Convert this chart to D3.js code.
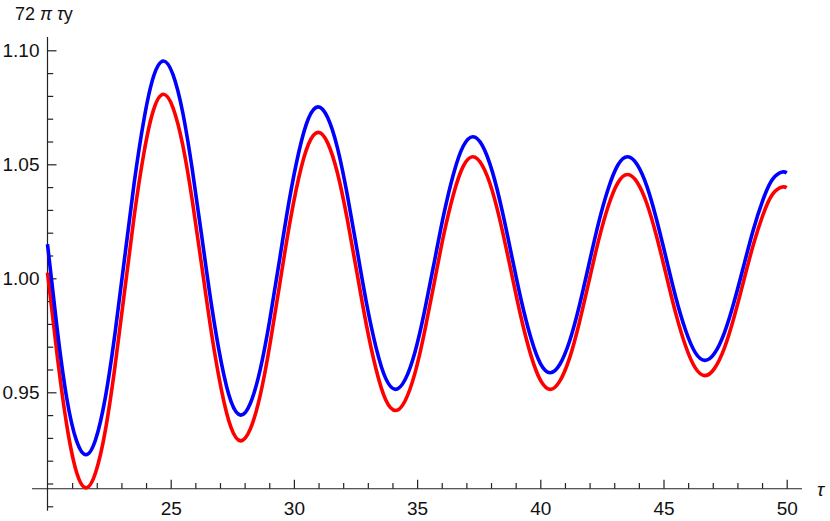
<!DOCTYPE html>
<html>
<head>
<meta charset="utf-8">
<script src="https://cdn.jsdelivr.net/npm/d3@7"></script>
<style>
    body { margin: 0; background: #fff; }
    svg { display: block; font-family: "Liberation Sans", Arial, sans-serif; }
    .tick text { fill: #111; font-size: 19px; }
    .tick line { stroke: #222; stroke-width: 1.2; }
</style>
</head>
<body>
<svg id="chart" width="830" height="521"></svg>
<script>

// tau values (extremes plus points in between)
var tau = [20, 20.39, 20.78, 21.17, 21.56, 21.95, 22.35, 22.74, 23.13, 23.52, 23.92, 24.31, 24.70,
    25.09, 25.49, 25.88, 26.27, 26.66, 27.06, 27.45, 27.84, 28.23, 28.63, 29.02, 29.41, 29.80,
    30.20, 30.59, 30.98, 31.37, 31.77, 32.16, 32.55, 32.94, 33.34, 33.73, 34.12, 34.51, 34.91,
    35.30, 35.69, 36.08, 36.48, 36.87, 37.26, 37.65, 38.05, 38.44, 38.83, 39.22, 39.62, 40.01,
    40.40, 40.79, 41.19, 41.58, 41.97, 42.36, 42.76, 43.15, 43.54, 43.93, 44.33, 44.72, 45.11,
    45.50, 45.90, 46.29, 46.68, 47.07, 47.47, 47.86, 48.25, 48.64, 49.04, 49.43, 49.82, 50];

var blueValues = [1.0149, 0.978, 0.9475, 0.9290, 0.9226,
    0.9292, 0.9479, 0.9759, 1.0090, 1.0420, 1.0700, 1.0887, 1.0953,
    1.0894, 1.0726, 1.0474, 1.0177, 0.9879, 0.9627, 0.9459, 0.9400,
    0.9451, 0.9598, 0.9817, 1.0076, 1.0335, 1.0554, 1.0701, 1.0752,
    1.0705, 1.0571, 1.0370, 1.0133, 0.9895, 0.9694, 0.9560, 0.9513,
    0.9555, 0.9675, 0.9855, 1.0067, 1.0279, 1.0459, 1.0579, 1.0621,
    1.0582, 1.0469, 1.0302, 1.0104, 0.9906, 0.9738, 0.9625, 0.9586,
    0.9622, 0.9725, 0.9878, 1.0060, 1.0241, 1.0394, 1.0497, 1.0533,
    1.0499, 1.0402, 1.0257, 1.0087, 0.9916, 0.9771, 0.9674, 0.9640,
    0.9671, 0.9761, 0.9895, 1.0053, 1.0211, 1.0345, 1.0435, 1.0466, 1.0462];

var redValues = [1.0025, 0.9664, 0.9357, 0.9153, 0.9081,
    0.9147, 0.9334, 0.9614, 0.9944, 1.0274, 1.0554, 1.0741, 1.0807,
    1.0749, 1.0584, 1.0338, 1.0047, 0.9756, 0.9510, 0.9345, 0.9287,
    0.9339, 0.9485, 0.9705, 0.9964, 1.0222, 1.0442, 1.0588, 1.0640,
    1.0594, 1.0461, 1.0263, 1.0030, 0.9797, 0.9599, 0.9466, 0.9420,
    0.9462, 0.9583, 0.9764, 0.9977, 1.0190, 1.0370, 1.0491, 1.0533,
    1.0494, 1.0384, 1.0218, 1.0023, 0.9828, 0.9662, 0.9552, 0.9513,
    0.9549, 0.9651, 0.9804, 0.9984, 1.0164, 1.0317, 1.0419, 1.0455,
    1.0421, 1.0326, 1.0183, 1.0014, 0.9845, 0.9702, 0.9607, 0.9573,
    0.9605, 0.9694, 0.9828, 0.9987, 1.0145, 1.0279, 1.0369, 1.0400, 1.0397];

var xMajor = [25, 30, 35, 40, 45, 50];
var xMinor = [21, 22, 23, 24, 26, 27, 28, 29, 31, 32, 33, 34, 36, 37, 38, 39, 41, 42, 43, 44, 46, 47, 48, 49];
var yMajor = [0.95, 1.00, 1.05, 1.10];
var yMinor = [0.90, 0.91, 0.92, 0.93, 0.94, 0.96, 0.97, 0.98, 0.99, 1.01, 1.02, 1.03, 1.04, 1.06, 1.07, 1.08, 1.09];

var svg = d3.select("#chart");

var x = d3.scaleLinear().domain([20, 50]).range([47.5, 786.7]);
var y = d3.scaleLinear().domain([0.9, 1.1]).range([506.3, 50.3]);

// where the axes meet
var originX = 20,
    originY = 0.9077;

var xAxisG = svg.append("g").attr("transform", "translate(0," + y(originY) + ")");
xAxisG.call(d3.axisBottom(x).tickValues(xMajor).tickSizeInner(-9).tickSizeOuter(0).tickPadding(13).tickFormat(d3.format("d")));
xAxisG.append("g").call(d3.axisBottom(x).tickValues(xMinor).tickSizeInner(-5.7).tickSizeOuter(0).tickFormat(""));
xAxisG.selectAll(".domain").remove();
xAxisG.append("line")
    .attr("x1", x(19.37)).attr("x2", x(50.62))
    .attr("stroke", "#222").attr("stroke-width", 1.2);

var yAxisG = svg.append("g").attr("transform", "translate(" + x(originX) + ",0)");
yAxisG.call(d3.axisLeft(y).tickValues(yMajor).tickSizeInner(-9).tickSizeOuter(0).tickPadding(8).tickFormat(d3.format(".2f")));
yAxisG.append("g").call(d3.axisLeft(y).tickValues(yMinor).tickSizeInner(-5.7).tickSizeOuter(0).tickFormat(""));
yAxisG.selectAll(".domain").remove();
yAxisG.append("line")
    .attr("y1", y(0.898)).attr("y2", y(1.1058))
    .attr("stroke", "#222").attr("stroke-width", 1.2);

// axis labels
var yLabel = svg.append("text")
    .attr("x", 15).attr("y", 20)
    .attr("font-size", 18).attr("fill", "#111");
yLabel.append("tspan").text("72 ");
yLabel.append("tspan").attr("font-style", "italic").text("π");
yLabel.append("tspan").text(" ");
yLabel.append("tspan").attr("font-style", "italic").text("τ");
yLabel.append("tspan").text("y");

svg.append("text")
    .attr("x", 817).attr("y", 496)
    .attr("font-size", 19).attr("font-style", "italic").attr("fill", "#111")
    .text("τ");

var line = d3.line()
    .x(function (d, i) { return x(tau[i]); })
    .y(function (d) { return y(d); })
    .curve(d3.curveNatural);

svg.append("path")
    .datum(redValues)
    .attr("d", line)
    .attr("fill", "none")
    .attr("stroke", "#ff0000")
    .attr("stroke-width", 3.6);

svg.append("path")
    .datum(blueValues)
    .attr("d", line)
    .attr("fill", "none")
    .attr("stroke", "#0000ff")
    .attr("stroke-width", 3.6);

</script>
</body>
</html>
